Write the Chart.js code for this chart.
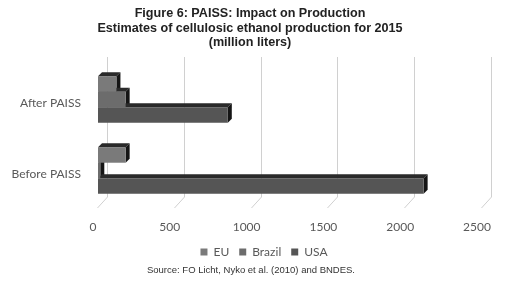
<!DOCTYPE html>
<html><head><meta charset="utf-8">
<script src="https://cdn.jsdelivr.net/npm/chart.js@4/dist/chart.umd.min.js"></script>
<style>
html,body{margin:0;padding:0;background:#fff;width:512px;height:284px;overflow:hidden;}
#wrap{position:absolute;left:0;top:0;width:492px;height:284px;overflow:hidden;}
#title{position:absolute;left:0;top:6px;width:500px;text-align:center;font-family:"Liberation Sans",sans-serif;font-weight:bold;font-size:12.6px;line-height:14.5px;color:#222;}
#source{position:absolute;left:0;top:264px;width:502px;text-align:center;font-family:"Liberation Sans",sans-serif;font-size:9.5px;color:#333;}
</style></head><body>
<div id="wrap"><canvas id="c" width="512" height="284"></canvas></div>
<div id="title">Figure 6: PAISS: Impact on Production<br>Estimates of cellulosic ethanol production for 2015<br>(million liters)</div>
<div id="source">Source: FO Licht, Nyko et al. (2010) and BNDES.</div>
<script>
const categories = ['After PAISS', 'Before PAISS'];
const seriesNames = ['EU', 'Brazil', 'USA'];
const euValues = [120, 180];
const brazilValues = [180, 15];
const usaValues = [845, 2120];
const xTicks = [0, 500, 1000, 1500, 2000, 2500];
const seriesColors = ['#7a7a7a', '#6c6c6c', '#555555'];

const depth = 4;
const threeD = {
  id: 'threeD',
  afterLayout(chart) {
    if (chart.legend) chart.legend.left = 46;
  },
  beforeDatasetsDraw(chart) {
    const ctx = chart.ctx, xs = chart.scales.x, area = chart.chartArea;
    ctx.save();
    ctx.strokeStyle = '#d0d0d0';
    ctx.lineWidth = 1;
    xs.ticks.forEach(t => {
      const px = Math.round(xs.getPixelForValue(t.value)) + 0.5;
      ctx.beginPath();
      ctx.moveTo(px + 9, area.top - 7);
      ctx.lineTo(px + 9, area.bottom - 9);
      ctx.lineTo(px - 1, area.bottom + 2);
      ctx.stroke();
    });
    chart.data.datasets.forEach((ds, i) => {
      const meta = chart.getDatasetMeta(i);
      meta.data.forEach(bar => {
        const p = bar.getProps(['x', 'y', 'base', 'height'], true);
        const top = p.y - p.height / 2, bottom = p.y + p.height / 2;
        ctx.fillStyle = '#2a2a2a';
        ctx.beginPath();
        ctx.moveTo(p.base, top); ctx.lineTo(p.base + depth, top - depth);
        ctx.lineTo(p.x + depth, top - depth); ctx.lineTo(p.x, top);
        ctx.closePath(); ctx.fill();
        ctx.fillStyle = '#151515';
        ctx.beginPath();
        ctx.moveTo(p.x, top); ctx.lineTo(p.x + depth, top - depth);
        ctx.lineTo(p.x + depth, bottom - depth); ctx.lineTo(p.x, bottom);
        ctx.closePath(); ctx.fill();
      });
    });
    ctx.restore();
  }
};

new Chart(document.getElementById('c'), {
  type: 'bar',
  data: {
    labels: categories,
    datasets: [
      { label: seriesNames[0], data: euValues, backgroundColor: seriesColors[0] },
      { label: seriesNames[1], data: brazilValues, backgroundColor: seriesColors[1] },
      { label: seriesNames[2], data: usaValues, backgroundColor: seriesColors[2] }
    ]
  },
  options: {
    indexAxis: 'y',
    responsive: false,
    animation: false,
    devicePixelRatio: 1,
    datasets: { bar: { categoryPercentage: 0.657, barPercentage: 1.0, borderWidth: 0 } },
    layout: { padding: { left: 0, right: 30, top: 64, bottom: 16 } },
    scales: {
      x: {
        min: 0, max: 2500,
        afterBuildTicks: s => { s.ticks = xTicks.map(v => ({ value: v })); },
        afterFit: s => { s.height = 30; },
        grid: { display: false },
        border: { display: false },
        ticks: { padding: 6, labelOffset: -5, color: '#595959', font: { family: 'Lato', size: 12 },
                 callback: v => String(v) }
      },
      y: {
        afterFit: s => { s.width = 98; },
        grid: { display: false },
        border: { display: false },
        ticks: { padding: 9, labelOffset: 4, color: '#595959', font: { family: 'Lato', size: 12 } }
      }
    },
    plugins: {
      legend: {
        position: 'bottom',
        labels: { boxWidth: 7, boxHeight: 7, padding: 10, color: '#595959', font: { family: 'Lato', size: 12 } }
      },
      tooltip: { enabled: false }
    }
  },
  plugins: [threeD]
});
</script>
</body></html>
